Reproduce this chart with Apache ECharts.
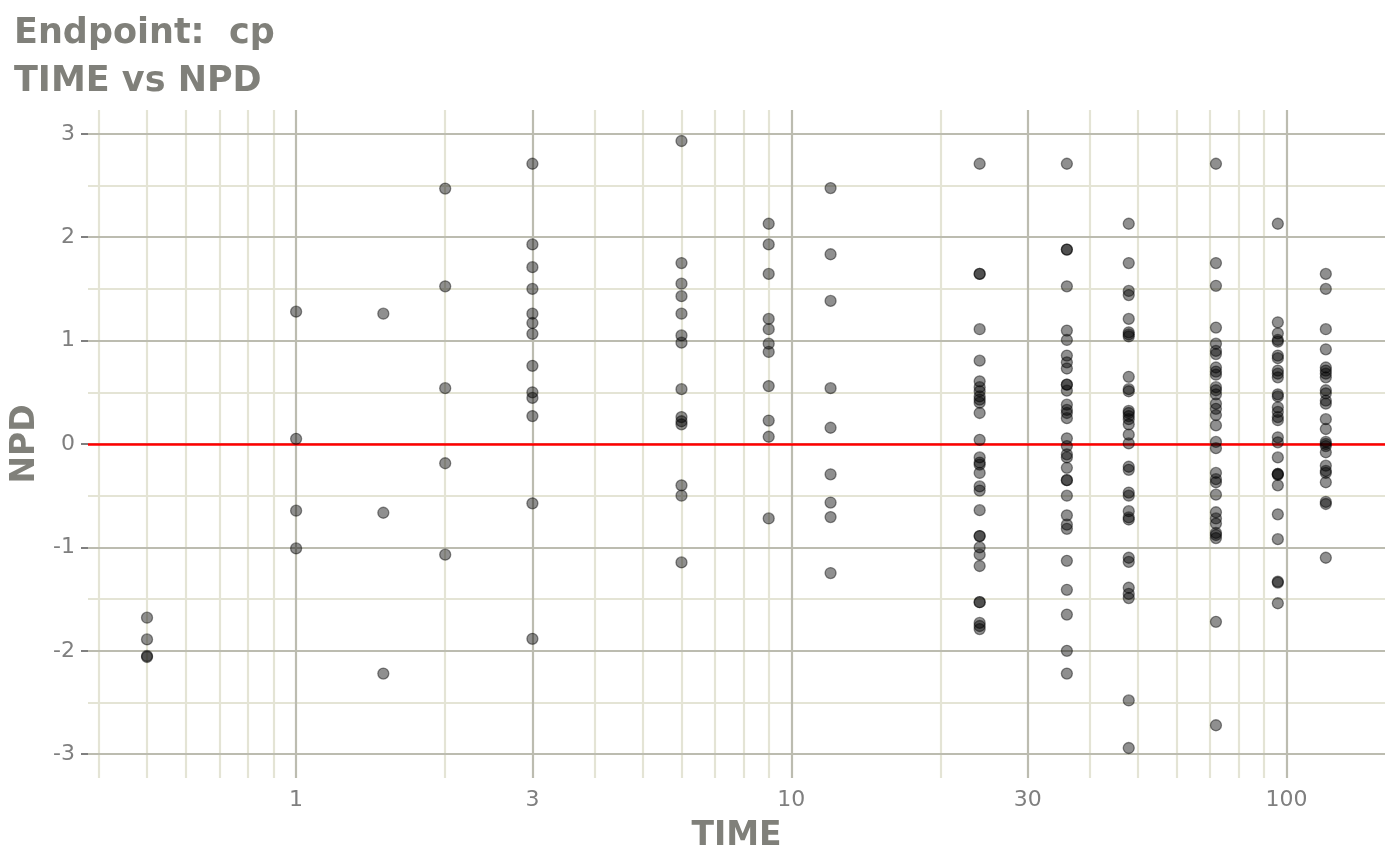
<!DOCTYPE html>
<html>
<head>
<meta charset="utf-8">
<title>TIME vs NPD</title>
<script src="https://cdn.jsdelivr.net/npm/echarts@6/dist/echarts.min.js"></script>
<style>
  html, body { margin: 0; padding: 0; background: #fff; }
  #chart { width: 1400px; height: 865px; }
</style>
</head>
<body>
<div id="chart"></div>
<script>
// nominal sampling times (h)
var times = [0.5, 1, 1.5, 2, 3, 6, 9, 12, 24, 36, 48, 72, 96, 120];

// NPD values read per time point
var npdT0_5 = [-1.68, -1.89, -2.05, -2.06];
var npdT1 = [1.28, 0.05, -0.645, -1.01];
var npdT1_5 = [1.26, -0.665, -2.22];
var npdT2 = [2.47, 1.525, 0.54, -0.186, -1.07];
var npdT3 = [2.71, 1.93, 1.71, 1.50, 1.26, 1.17, 1.065, 0.756, 0.50, 0.446, 0.27, -0.574, -1.884];
var npdT6 = [2.93, 1.75, 1.55, 1.43, 1.26, 1.05, 0.98, 0.53, 0.26, 0.22, 0.19, -0.40, -0.50, -1.145];
var npdT9 = [2.13, 1.93, 1.645, 1.21, 1.11, 0.97, 0.89, 0.56, 0.227, 0.07, -0.72];
var npdT12 = [2.475, 1.835, 1.384, 0.54, 0.157, -0.293, -0.566, -0.707, -1.248];
var npdT24 = [2.71, 1.645, 1.645, 1.11, 0.806, 0.606, 0.55, 0.51, 0.46, 0.43, 0.40, 0.30, 0.04,
  -0.13, -0.18, -0.20, -0.28, -0.41, -0.45, -0.64, -0.89, -0.89, -1.00, -1.07, -1.18, -1.53, -1.53, -1.73, -1.76, -1.79];
var npdT36 = [2.71, 1.88, 1.88, 1.525, 1.097, 1.006, 0.855, 0.79, 0.73, 0.574, 0.574, 0.516, 0.38, 0.33, 0.30, 0.25, 0.055,
  -0.02, -0.10, -0.13, -0.23, -0.35, -0.35, -0.50, -0.69, -0.78, -0.82, -1.13, -1.41, -1.65, -2.00, -2.22];
var npdT48 = [2.13, 1.75, 1.48, 1.44, 1.21, 1.08, 1.06, 1.04, 0.65, 0.53, 0.51, 0.32, 0.30, 0.27, 0.24, 0.19, 0.09, 0.006,
  -0.22, -0.25, -0.47, -0.50, -0.65, -0.71, -0.73, -1.10, -1.14, -1.39, -1.45, -1.49, -2.48, -2.94];
var npdT72 = [2.71, 1.75, 1.53, 1.126, 0.97, 0.90, 0.87, 0.74, 0.70, 0.67, 0.55, 0.52, 0.48, 0.39, 0.34, 0.28, 0.18, 0.02,
  -0.04, -0.28, -0.34, -0.37, -0.49, -0.66, -0.72, -0.77, -0.86, -0.88, -0.91, -1.72, -2.72];
var npdT96 = [2.13, 1.177, 1.07, 1.006, 0.99, 0.855, 0.83, 0.71, 0.68, 0.645, 0.48, 0.46, 0.355, 0.31, 0.26, 0.23, 0.065, 0.016,
  -0.13, -0.29, -0.29, -0.30, -0.40, -0.68, -0.92, -1.33, -1.34, -1.54];
var npdT120 = [1.645, 1.50, 1.11, 0.916, 0.74, 0.71, 0.68, 0.645, 0.52, 0.49, 0.42, 0.39, 0.24, 0.145, 0.02, 0.0,
  -0.02, -0.08, -0.21, -0.26, -0.28, -0.37, -0.56, -0.58, -1.10];

var npdGroups = [npdT0_5, npdT1, npdT1_5, npdT2, npdT3, npdT6, npdT9, npdT12,
  npdT24, npdT36, npdT48, npdT72, npdT96, npdT120];

// axis ticks / grid breaks
var xTicks = [1, 3, 10, 30, 100];
var xMinor = [0.4, 0.5, 0.6, 0.7, 0.8, 0.9, 2, 4, 5, 6, 7, 8, 9, 20, 40, 50, 60, 70, 80, 90];
var yTicks = [-3, -2, -1, 0, 1, 2, 3];
var yMinor = [-2.5, -1.5, -0.5, 0.5, 1.5, 2.5];
var xRange = [0.38, 158];
var yRange = [-3.23, 3.23];

var txtColor = '#7f7f7f';
var titleColor = '#80807a';
var majorColor = '#bcbcb0';
var minorColor = '#e4e4d5';
var fontFam = 'DejaVu Sans';

var points = [];
for (var i = 0; i < times.length; i++) {
  for (var j = 0; j < npdGroups[i].length; j++) {
    points.push([times[i], npdGroups[i][j]]);
  }
}

function gridLines(xs, ys, color, z) {
  var d = [];
  xs.forEach(function (v) { d.push({ xAxis: v }); });
  ys.forEach(function (v) { d.push({ yAxis: v }); });
  return {
    type: 'scatter',
    data: [],
    silent: true,
    markLine: {
      z: z,
      silent: true,
      animation: false,
      symbol: 'none',
      label: { show: false },
      lineStyle: { color: color, width: 2.2, type: 'solid' },
      emphasis: { disabled: true },
      data: d
    }
  };
}

var myChart = echarts.init(document.getElementById('chart'));

var option = {
  animation: false,
  backgroundColor: '#ffffff',
  title: {
    text: 'Endpoint:  cp\nTIME vs NPD',
    left: 14,
    top: 10,
    padding: 0,
    textStyle: {
      fontFamily: fontFam,
      fontSize: 35,
      fontWeight: 'bold',
      color: titleColor,
      lineHeight: 48
    }
  },
  grid: { left: 88, right: 15, top: 110, bottom: 87, containLabel: false },
  xAxis: {
    type: 'log',
    logBase: 10,
    min: xRange[0],
    max: xRange[1],
    name: 'TIME',
    nameLocation: 'middle',
    nameGap: 42,
    nameTextStyle: { fontFamily: fontFam, fontSize: 33, fontWeight: 'bold', color: titleColor },
    axisLine: { show: false },
    axisTick: { show: true, customValues: xTicks, length: 7, lineStyle: { color: txtColor, width: 2 } },
    axisLabel: { customValues: xTicks, margin: 11, fontFamily: fontFam, fontSize: 22, color: txtColor },
    splitLine: { show: false },
    minorTick: { show: false },
    minorSplitLine: { show: false }
  },
  yAxis: {
    type: 'value',
    min: yRange[0],
    max: yRange[1],
    name: 'NPD',
    nameLocation: 'middle',
    nameGap: 35,
    nameTextStyle: { fontFamily: fontFam, fontSize: 33, fontWeight: 'bold', color: titleColor },
    axisLine: { show: false },
    axisTick: { show: true, customValues: yTicks, length: 7, lineStyle: { color: txtColor, width: 2 } },
    axisLabel: { customValues: yTicks, margin: 13, fontFamily: fontFam, fontSize: 22, color: txtColor },
    splitLine: { show: false }
  },
  series: [
    gridLines(xMinor, yMinor, minorColor, 1),
    gridLines(xTicks, yTicks, majorColor, 1.2),
    {
      type: 'scatter',
      data: [],
      silent: true,
      markLine: {
        z: 1.5,
        silent: true,
        animation: false,
        symbol: 'none',
        label: { show: false },
        lineStyle: { color: '#ff0000', width: 2.5, type: 'solid' },
        data: [{ yAxis: 0 }]
      }
    },
    {
      name: 'NPD',
      type: 'scatter',
      z: 3,
      symbol: 'circle',
      symbolSize: 11,
      itemStyle: {
        color: 'rgba(0,0,0,0.55)',
        borderColor: 'rgba(0,0,0,0.55)',
        borderWidth: 1.3
      },
      data: points
    }
  ]
};

myChart.setOption(option);
</script>
</body>
</html>
